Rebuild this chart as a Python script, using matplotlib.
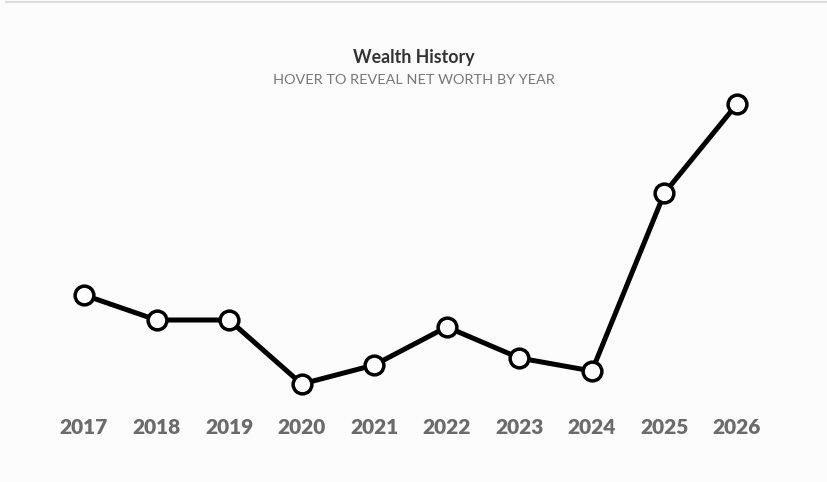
import matplotlib.pyplot as plt

years = [2017, 2018, 2019, 2020, 2021, 2022, 2023, 2024, 2025, 2026]
# relative net worth (no axis shown)
net_worth = [105, 80, 80, 16, 35, 73, 42, 29, 207, 296]

fig = plt.figure(figsize=(8.27, 4.82), dpi=100, facecolor="#fcfcfc")
ax = fig.add_axes([0, 0, 1, 1])
ax.set_facecolor("#fcfcfc")

ax.plot(years, net_worth, color="black", linewidth=3.6, solid_joinstyle="round",
        marker="o", markersize=13.5, markerfacecolor="white",
        markeredgecolor="black", markeredgewidth=2.5, zorder=3)

ax.set_xlim(2015.842, 2027.24)
ax.set_ylim(-82, 400)
ax.axis("off")

for yr in years:
    ax.text(yr, -27, str(yr), ha="center", va="center", fontsize=15,
            fontweight="heavy", color="#6b6b6b", family="Lato")

fig.text(0.5, 1 - 57 / 482, "Wealth History", ha="center", va="center",
         fontsize=12.8, fontweight="bold", color="#333333", family="Lato")
fig.text(0.5, 1 - 80 / 482, "HOVER TO REVEAL NET WORTH BY YEAR", ha="center",
         va="center", fontsize=10.4, color="#777777", family="Lato")

# thin border at the top
ax.axhline(398, xmin=6 / 827, xmax=1, color="#dddddd", linewidth=1.5)

fig.savefig("out.png", dpi=100, facecolor=fig.get_facecolor())
